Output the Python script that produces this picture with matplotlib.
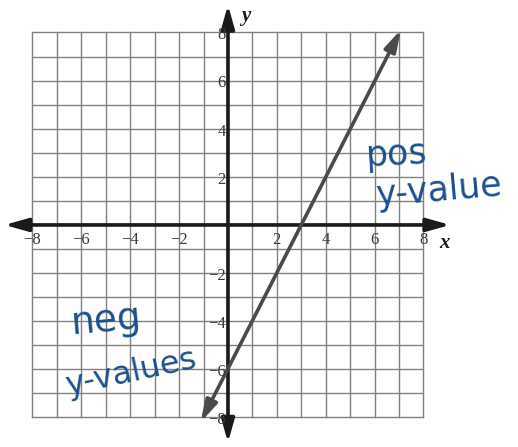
import matplotlib
matplotlib.use("Agg")
import matplotlib.pyplot as plt
import numpy as np

# Data
grid_vals = list(range(-8, 9))
x_tick_labels = [-8, -6, -4, -2, 2, 4, 6, 8]
y_tick_labels = [-8, -6, -4, -2, 2, 4, 6, 8]
line_x = [-1.12, 7.08]
line_y = [-8.2, 8.12]
note_pos_1 = "pos"
note_pos_2 = "y-value"
note_neg_1 = "neg"
note_neg_2 = "y-values"

fig = plt.figure(figsize=(5.18, 4.47), dpi=100)
ax = fig.add_axes([0, 0, 1, 1])
ax.set_xlim(-9.33, 11.87)
ax.set_ylim(-9.23, 9.35)
ax.axis("off")

gcol = "#808080"
for v in grid_vals:
    ax.plot([v, v], [-8, 8], color=gcol, lw=1.0, zorder=1)
    ax.plot([-8, 8], [v, v], color=gcol, lw=1.0, zorder=1)

# Axes with arrows
aprops = dict(arrowstyle="<|-|>,head_length=1.0,head_width=0.28", color="#1a1a1a",
              lw=2.6, shrinkA=0, shrinkB=0, mutation_scale=14)
ax.annotate("", xy=(9.1, 0), xytext=(-9.15, 0), arrowprops=aprops, zorder=3)
ax.annotate("", xy=(0, 9.15), xytext=(0, -9.05), arrowprops=aprops, zorder=3)

# Graph line
lprops = dict(arrowstyle="<|-|>,head_length=1.0,head_width=0.28", color="#4a4a4a",
              lw=2.6, shrinkA=0, shrinkB=0, mutation_scale=13)
ax.annotate("", xy=(line_x[1], line_y[1]), xytext=(line_x[0], line_y[0]),
            arrowprops=lprops, zorder=4)

tfont = dict(family="Liberation Serif", fontsize=12, color="#3a3a3a")
for v in x_tick_labels:
    ax.text(v, -0.62, f"\u2212{abs(v)}" if v < 0 else str(v),
            ha="center", va="center", zorder=5, **tfont)
for v in y_tick_labels:
    ax.text(-0.1, v - 0.12, f"\u2212{abs(v)}" if v < 0 else str(v),
            ha="right", va="center", zorder=5, **tfont)

ax.text(8.85, -0.75, "x", ha="center", va="center", family="Liberation Serif",
        style="italic", fontweight="bold", fontsize=15, color="#1a1a1a")
ax.text(0.72, 8.7, "y", ha="center", va="center", family="Liberation Serif",
        style="italic", fontweight="bold", fontsize=15, color="#1a1a1a")

hcol = "#1c4f8f"
ax.text(5.6, 2.95, note_pos_1, ha="left", va="center", fontsize=25, color=hcol,
        family="DejaVu Sans", rotation=3)
ax.text(6.0, 1.45, note_pos_2, ha="left", va="center", fontsize=25, color=hcol,
        family="DejaVu Sans", rotation=5)
ax.text(-6.5, -4.0, note_neg_1, ha="left", va="center", fontsize=27, color=hcol,
        family="DejaVu Sans", rotation=5)
ax.text(-6.75, -6.15, note_neg_2, ha="left", va="center", fontsize=23, color=hcol,
        family="DejaVu Sans", rotation=12)

fig.savefig("out.png", dpi=100)
